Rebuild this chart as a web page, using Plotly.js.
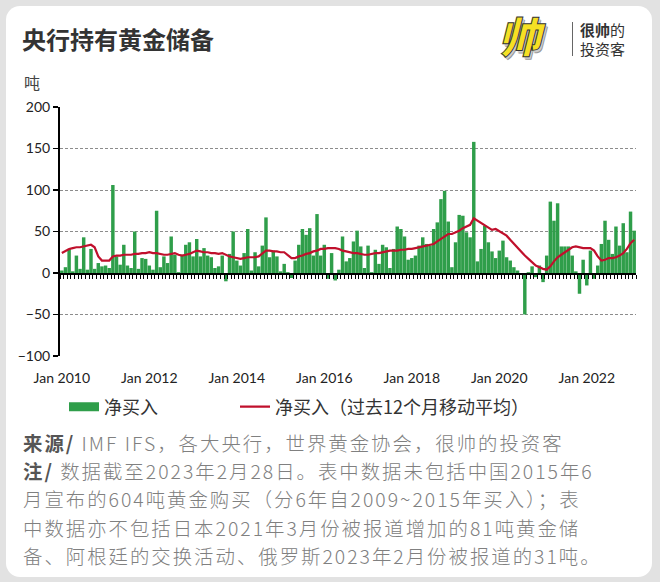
<!DOCTYPE html>
<html><head><meta charset="utf-8">
<script src="https://cdn.plot.ly/plotly-3.0.1.min.js"></script>
<style>
html,body{margin:0;padding:0;}
body{width:660px;height:582px;background:#e2e2e2;position:relative;overflow:hidden;font-family:Lato,"Noto Sans CJK SC",sans-serif;}
#card{position:absolute;left:6px;top:6px;width:646px;height:571px;background:#fff;border-radius:14px;}
#chart{position:absolute;left:0;top:0;width:660px;height:582px;}
#title{position:absolute;left:22px;top:22px;font-size:24px;font-weight:700;color:#333;font-family:"Noto Sans CJK SC";line-height:34px;}
#mark{position:absolute;left:503px;top:10px;font-family:"Noto Sans CJK SC";font-size:42px;font-weight:900;color:#f6e024;-webkit-text-stroke:1px #333;transform:skewX(-14deg);text-shadow:2px 2px 0 #ccc,3px 3px 0 #999;line-height:50px;}
#divider{position:absolute;left:572px;top:22px;width:1px;height:34px;background:#666;}
#brand{position:absolute;left:580px;top:20px;font-family:"Noto Sans CJK SC";font-size:15px;line-height:19px;color:#333;}
#note{position:absolute;left:23px;top:429px;font-family:"Noto Sans CJK SC",sans-serif;font-size:19.4px;line-height:28.2px;letter-spacing:2.0px;color:#808080;font-weight:300;white-space:nowrap;}
#note div{height:28.2px;}
#note b{color:#555;font-weight:700;}
</style></head>
<body>
<div id="card"></div>
<div id="chart"></div>
<div id="title">央行持有黄金储备</div>
<div id="mark">帅</div>
<div id="divider"></div>
<div id="brand"><b>很帅</b>的<br>投资客</div>
<div id="note">
<div><b>来源/</b> IMF IFS，各大央行，世界黄金协会，很帅的投资客</div>
<div><b>注/</b> 数据截至2023年2月28日。表中数据未包括中国2015年6</div>
<div>月宣布的604吨黄金购买（分6年自2009~2015年买入）；表</div>
<div>中数据亦不包括日本2021年3月份被报道增加的81吨黄金储</div>
<div>备、阿根廷的交换活动、俄罗斯2023年2月份被报道的31吨。</div>
</div>
<script>
// Monthly categories Jan 2010 - Feb 2023
const startYear = 2010;
const monthCount = 158;
const months = [];
for (let i = 0; i < monthCount; i++) {
  const y = startYear + Math.floor(i / 12);
  const m = (i % 12) + 1;
  months.push(y + '-' + (m < 10 ? '0' + m : '' + m));
}
const tickCats = ['2010-01','2012-01','2014-01','2016-01','2018-01','2020-01','2022-01'];
const tickLabels = ['Jan 2010','Jan 2012','Jan 2014','Jan 2016','Jan 2018','Jan 2020','Jan 2022'];

// Net purchases (tonnes)
const netPurchases = [
  3, 7, 29, 2, 21, 5, 43, 4, 29, 5, 12, 8,          // 2010
  9, 6, 106, 20, 10, 34, 9, 6, 50, 5, 18, 17,       // 2011
  9, 4, 75, 7, 20, 12, 44, 22, 1, 22, 34, 37,       // 2012
  20, 41, 20, 30, 21, 19, 6, 8, 21, -10, 23, 50,    // 2013
  15, 9, 24, 53, 3, 25, 8, 33, 67, 19, 27, 20,      // 2014
  2, 11, 1, -6, 15, 34, 53, 46, 54, 21, 71, 21,     // 2015
  34, -7, 24, -9, 4, 44, 14, 18, 38, 51, 32, 6,     // 2016
  33, 1, 28, 11, 34, 31, 6, 29, 56, 53, 44, 16,     // 2017
  18, 21, 33, 43, 35, 33, 53, 61, 89, 99, 62, 7,    // 2018
  37, 70, 69, 49, 43, 158, 14, 29, 57, 37, 26, 18,  // 2019
  27, 39, 19, 15, 7, 3, 0, -50, 1, 8, -5, 9,        // 2020
  -11, 21, 86, 63, 84, 32, 32, 32, 21, 2, -25, 16,  // 2021
  -15, 27, -7, 9, 35, 63, 40, 23, 56, 33, 60, 25,   // 2022
  74, 51                                            // 2023
];

// 12-month moving average (tonnes)
const movingAvg = [
  24, 27, 29, 30, 31, 31, 32, 33, 34, 31, 20, 15,
  15, 15, 20, 21, 21, 22, 22, 22, 23, 23, 24, 24,
  25, 24, 24, 23, 22, 22, 23, 24, 22, 21, 22, 23,
  25, 27, 26, 25, 25, 24, 24, 23, 24, 22, 20, 19,
  18, 17, 18, 19, 19, 19, 20, 23, 27, 27, 26, 26,
  25, 25, 22, 18, 18, 20, 21, 23, 24, 26, 27, 29,
  29, 30, 30, 30, 29, 27, 26, 25, 24, 24, 23, 22,
  22, 23, 24, 24, 25, 26, 27, 27, 27, 28, 28, 29,
  29, 30, 31, 32, 33, 34, 35, 38, 41, 45, 47, 47,
  49, 51, 54, 56, 58, 66, 63, 60, 57, 55, 52, 53,
  50, 48, 45, 40, 35, 30, 25, 21, 17, 13, 9, 7,
  5, 4, 8, 14, 19, 22, 25, 28, 31, 32, 31, 30,
  30, 30, 27, 20, 15, 16, 18, 18, 19, 21, 24, 29,
  36, 40
];

const seriesNames = ['净买入', '净买入（过去12个月移动平均）'];
const green = '#2f9e4a';
const red = '#c0102c';

const traces = [
  {type:'bar', x:months, y:netPurchases, marker:{color:green}, name:seriesNames[0], showlegend:false, hoverinfo:'x+y'},
  {type:'scatter', mode:'lines', x:[null], y:[null], line:{color:green, width:9}, name:seriesNames[0], showlegend:true, legend:'legend', hoverinfo:'skip'},
  {type:'scatter', mode:'lines', x:months, y:movingAvg, xaxis:'x2', line:{color:red, width:2.2}, name:seriesNames[1], legend:'legend2', hoverinfo:'x+y'}
];

const PL = 60, PR = 636, PT = 107, PB = 356;
const legendFont = {size:18, color:'#333', family:'"Noto Sans CJK SC", sans-serif'};
const layout = {
  width:660, height:582,
  margin:{l:PL, r:660-PR, t:PT, b:582-PB, pad:0},
  paper_bgcolor:'rgba(0,0,0,0)', plot_bgcolor:'rgba(0,0,0,0)',
  font:{family:'Lato, "Noto Sans CJK SC", sans-serif', color:'#222', size:14},
  bargap:0.05,
  showlegend:true,
  xaxis:{type:'category', range:[-0.5, monthCount-0.5], tickmode:'array', tickvals:tickCats, ticktext:tickLabels,
    ticks:'', showgrid:false, showline:false, zeroline:false, tickfont:{size:14, color:'#222'}, ticklabelstandoff:12, fixedrange:true},
  xaxis2:{type:'category', overlaying:'x', anchor:'free', position:1/3, range:[-0.5, monthCount-0.5],
    tickmode:'linear', tick0:0, dtick:1, tickson:'boundaries', ticks:'outside', ticklen:4, tickwidth:1, tickcolor:'#000',
    showticklabels:false, showline:true, linecolor:'#000', linewidth:1.5, showgrid:false, zeroline:false, fixedrange:true},
  yaxis:{range:[-100,200], tickmode:'linear', tick0:0, dtick:50, showgrid:true, gridcolor:'#8c8c8c', griddash:'3px,2px', gridwidth:1,
    zeroline:false, showline:true, linecolor:'#000', linewidth:2, ticks:'outside', ticklen:5, tickwidth:1.5, tickcolor:'#000',
    tickfont:{size:14, color:'#222'}, fixedrange:true},
  legend:{orientation:'h', x:(64-PL)/(PR-PL), xanchor:'left', y:(PB-407)/(PB-PT), yanchor:'middle',
    font:legendFont, itemwidth:30, bgcolor:'rgba(0,0,0,0)'},
  legend2:{orientation:'h', x:(235-PL)/(PR-PL), xanchor:'left', y:(PB-407)/(PB-PT), yanchor:'middle',
    font:legendFont, itemwidth:30, bgcolor:'rgba(0,0,0,0)'},
  annotations:[
    {text:'吨', xref:'paper', yref:'paper', x:(22-PL)/(PR-PL), y:(PB-82)/(PB-PT), xanchor:'left', yanchor:'middle', showarrow:false,
     font:{size:16, color:'#444', family:'"Noto Sans CJK SC", sans-serif'}}
  ]
};

Plotly.newPlot('chart', traces, layout, {displayModeBar:false, staticPlot:true});
</script>
</body></html>
